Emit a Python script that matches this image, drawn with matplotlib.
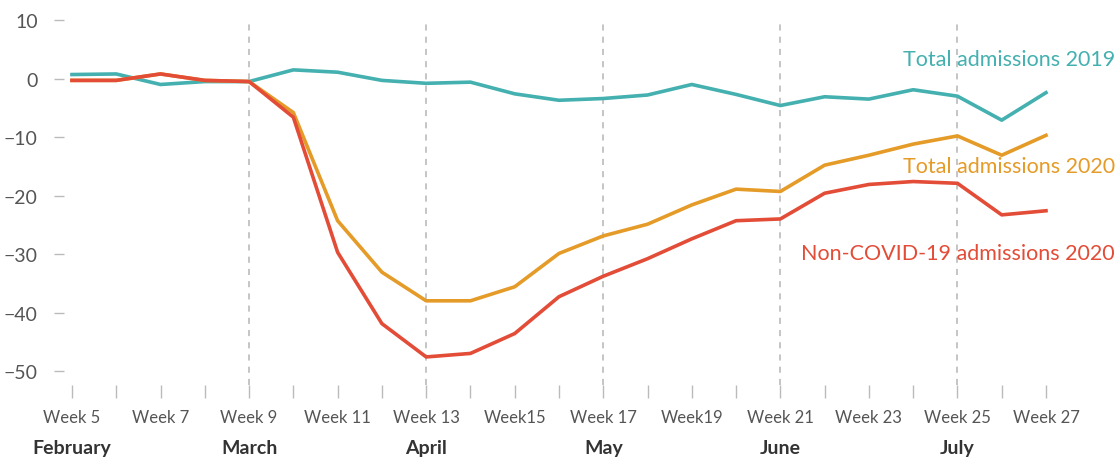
import numpy as np
import matplotlib
matplotlib.use("Agg")
import matplotlib.pyplot as plt
import matplotlib.transforms as mtransforms

# data: % change in weekly admissions vs baseline
weeks = list(range(5, 28))
total_2019 = [0.7, 0.8, -1.0, -0.5, -0.5, 1.5, 1.1, -0.3, -0.8, -0.6, -2.6, -3.7,
              -3.4, -2.8, -1.0, -2.7, -4.6, -3.1, -3.5, -1.9, -3.0, -7.1, -2.4]
total_2020 = [-0.3, -0.3, 0.8, -0.3, -0.5, -5.8, -24.3, -33.1, -38.0, -38.0, -35.6, -29.9,
              -26.9, -24.9, -21.6, -18.9, -19.3, -14.8, -13.1, -11.2, -9.8, -13.1, -9.7]
noncovid_2020 = [-0.3, -0.3, 0.8, -0.3, -0.5, -6.6, -29.7, -41.9, -47.6, -47.0, -43.6, -37.3,
                 -33.8, -30.8, -27.4, -24.3, -24.0, -19.6, -18.1, -17.6, -17.9, -23.3, -22.6]

tick_weeks = list(range(5, 28, 2))
tick_labels = ["Week 5", "Week 7", "Week 9", "Week 11", "Week 13", "Week15",
               "Week 17", "Week19", "Week 21", "Week 23", "Week 25", "Week 27"]
month_weeks = [5, 9, 13, 17, 21, 25]
month_names = ["February", "March", "April", "May", "June", "July"]
divider_weeks = [9, 13, 17, 21, 25]

TEAL = "#45b0b0"
ORANGE = "#e59b28"
RED = "#e34c37"
GREY = "#555555"

plt.rcParams["font.family"] = ["Lato", "DejaVu Sans"]

W, H = 1119, 460
fig = plt.figure(figsize=(W / 100, H / 100), dpi=100)
ax = fig.add_axes([64 / W, 74 / H, (1100 - 64) / W, 366 / H])

for w in divider_weeks:
    ax.axvline(w, color="#b5b5b5", lw=1.1, ls=(0, (4, 4)), zorder=1)

ax.plot(weeks, total_2019, color=TEAL, lw=2.6, zorder=3)
ax.plot(weeks, total_2020, color=ORANGE, lw=2.6, zorder=3)
ax.plot(weeks, noncovid_2020, color=RED, lw=2.6, zorder=4)

ax.set_xlim(4.82, 28.22)
ax.set_ylim(-52.4, 10.2)

for s in ax.spines.values():
    s.set_visible(False)

ax.set_yticks([10, 0, -10, -20, -30, -40, -50])
ax.tick_params(axis="y", length=7, width=1, color="#bbbbbb", pad=12,
               labelsize=14, labelcolor=GREY)
ax.set_xticks(weeks, minor=True)
ax.set_xticks(tick_weeks)
ax.set_xticklabels(tick_labels)
ax.tick_params(axis="x", which="both", length=9, width=1, color="#bbbbbb")
ax.tick_params(axis="x", which="major", pad=8, labelsize=12, labelcolor=GREY)

trans = mtransforms.blended_transform_factory(ax.transData, ax.transAxes)
for w, m in zip(month_weeks, month_names):
    ax.text(w, -0.172, m, transform=trans, ha="center", va="center",
            fontsize=14, fontweight="bold", color="#333333")

# series labels, placed in pixel coords (origin bottom-left)
ax.text(1115, H - 60, "Total admissions 2019", transform=None, ha="right", va="center",
        fontsize=15.5, color=TEAL)
ax.text(1115, H - 167, "Total admissions 2020", transform=None, ha="right", va="center",
        fontsize=15.5, color=ORANGE)
ax.text(1115, H - 254, "Non-COVID-19 admissions 2020", transform=None, ha="right", va="center",
        fontsize=15.5, color=RED)

fig.savefig("out.png", dpi=100)
